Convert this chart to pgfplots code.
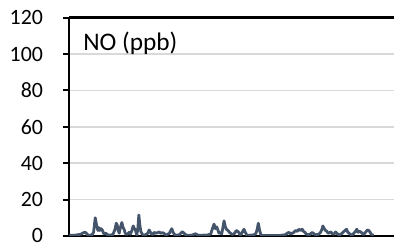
\documentclass[border=0pt]{standalone}
\usepackage{fontspec}
\setmainfont{Carlito}
\usepackage{pgfplots}
\pgfplotsset{compat=1.18}
\definecolor{lineblue}{HTML}{44546A}
\definecolor{gridgray}{HTML}{D9D9D9}
\begin{document}
\begin{tikzpicture}
\begin{axis}[
  scale only axis, width=326bp, height=219bp,
  xmin=58.5, xmax=1035, ymin=0, ymax=120,
  ytick={0,20,...,120}, xtick=\empty,
  axis x line*=box, axis y line*=left,
  axis line style={black, line width=2.5bp, -},
  ymajorgrids, grid style={gridgray, line width=1.5bp},
  tick align=outside, major tick length=6bp,
  ytick style={black, line width=2bp},
  tick label style={font=\fontsize{22}{24}\selectfont},
  /pgf/number format/assume math mode=true,
  yticklabel style={inner sep=0pt, xshift=-19.7bp},
]
\addplot[lineblue, line width=2.8bp, line join=round] coordinates {
(60,0.5)(70,0.3)(80,0.5)(90,0.8)(95,1.0)(100,1.5)(105,2.0)(110,1.8)(115,0.6)(120,0.4)
(128,0.5)(133,2)(138,10)(142,6)(146,3)(149,4.6)(152,3)(156,4)(160,3)(163,1.5)
(167,1)(170,1.5)(175,0.6)(180,0.4)(185,0.6)(190,0.5)(195,2.5)(198,4)(201,7)(204,6)
(207,3)(210,1.5)(214,5)(218,7.4)(221,5)(225,3.5)(228,1.5)(232,0.8)(236,1.2)(240,2)
(244,1)(248,3)(252,5.5)(256,4)(259,3)(263,0.5)(266,4)(269,11.5)(272,6)(275,2.5)
(279,1)(283,0.5)(287,0.5)(292,1)(296,1.5)(300,3.3)(304,2)(308,0.8)(312,1)(315,2)
(320,1.5)(325,1.8)(330,2.2)(335,1.5)(340,1.8)(344,1.5)(348,0.8)(352,0.5)(356,1)(361,1.5)
(365,3)(368,4)(372,2)(376,0.8)(380,0.4)(385,0.5)(390,0.5)(395,1.5)(400,2.3)(405,1.5)
(410,0.6)(415,0.4)(420,0.3)(425,0.4)(430,0.5)(435,1)(440,1.2)(445,0.6)(450,0.3)(455,0.4)
(460,0.3)(465,0.5)(470,0.4)(475,0.5)(480,0.8)(485,1)(490,4)(495,6.5)(499,4)(503,5)
(506,3.5)(510,1.5)(514,2)(518,1)(522,5)(525,8.3)(529,5)(533,3.5)(537,3)(541,2)
(545,1.5)(549,0.8)(553,1)(557,1.5)(561,2.8)(565,2.8)(569,2)(573,0.6)(577,1)(581,2.5)
(585,3.7)(589,2)(593,0.6)(597,0.3)(602,0.4)(607,0.5)(612,0.5)(617,0.8)(621,1.5)(625,4)
(628,7)(632,3)(636,0.5)(640,0.3)(645,0.3)(650,0.2)(655,0.2)(660,0.2)(665,0.3)(670,0.2)
(675,0.3)(680,0.2)(685,0.3)(690,0.3)(695,0.3)(700,0.5)(705,0.5)(710,0.8)(715,1.5)(720,2)
(725,1)(730,1.5)(735,2)(740,3)(745,2.5)(750,3.7)(755,3)(760,3.7)(764,2.5)(768,2)
(772,1)(776,0.8)(780,0.6)(785,1.2)(790,2)(795,1.2)(800,0.6)(805,0.8)(810,1)(815,2)
(819,3.5)(822,5.5)(826,4)(830,3)(834,2.5)(838,1.5)(842,1.8)(846,2.2)(850,1.2)(855,1)
(860,2.2)(864,1.5)(868,0.8)(872,0.6)(876,1)(880,1.5)(885,2.5)(889,3)(893,3.7)(897,2)
(901,1.5)(905,0.8)(910,0.5)(915,1.5)(920,2.5)(924,3.7)(928,2)(932,2.5)(936,2.2)(940,1.5)
(944,0.8)(948,1.5)(952,2.5)(956,3.3)(960,3)(964,2)(968,0.8)(972,0.5)(975,0.4)
};
\node[anchor=base west, inner sep=0pt, font=\fontsize{25.5}{30}\selectfont] at (axis description cs:0.044,0.848) {NO (ppb)};
\end{axis}
\path[use as bounding box] ([xshift=-69bp,yshift=-6.3bp]current axis.south west) rectangle ([yshift=17.7bp]current axis.north east);
\end{tikzpicture}
\end{document}
